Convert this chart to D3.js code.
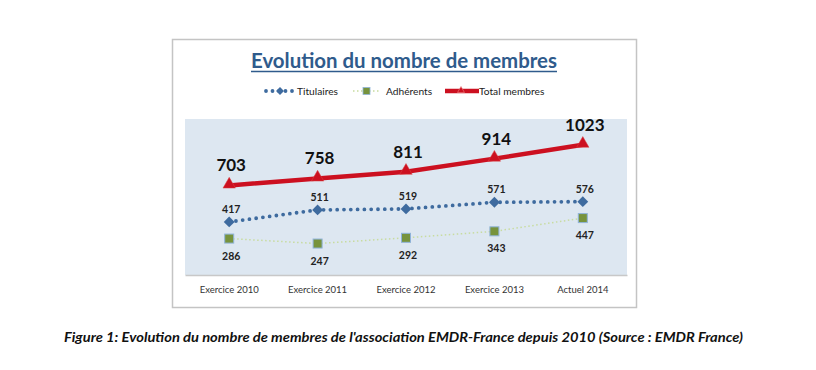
<!DOCTYPE html>
<html><head><meta charset="utf-8">
<script src="https://cdn.jsdelivr.net/npm/d3@7"></script>
<style>body{margin:0;background:#fff;} svg{display:block;}</style>
</head><body>
<script>
const categories = ["Exercice 2010","Exercice 2011","Exercice 2012","Exercice 2013","Actuel 2014"];
const titulaires = [417, 511, 519, 571, 576];
const adherents = [286, 247, 292, 343, 447];
const total = [703, 758, 811, 914, 1023];
const seriesNames = ["Titulaires","Adhérents","Total membres"];

const W = 816, H = 370;
const svg = d3.select("body").append("svg").attr("width", W).attr("height", H);
const font = "Lato, 'Open Sans', sans-serif";

// frame
svg.append("rect").attr("x",172.5).attr("y",39.5).attr("width",464).attr("height",268)
  .attr("fill","#fff").attr("stroke","#c4c4c4").attr("stroke-width",1.5);

const plot = {l:185, r:627, t:119, b:275};
svg.append("rect").attr("x",plot.l).attr("y",plot.t).attr("width",plot.r-plot.l).attr("height",plot.b-plot.t)
  .attr("fill","#dde7f1");

const x = d3.scaleBand().domain(categories).range([plot.l, plot.r]);
const y = d3.scaleLinear().domain([0, 1225]).range([plot.b, plot.t]);
const cx = c => x(c) + x.bandwidth()/2;

// axis
const ax = svg.append("g").attr("transform",`translate(0,${plot.b})`)
  .call(d3.axisBottom(x).tickSize(0).tickPadding(11));
ax.select(".domain").attr("stroke","#c8c8c8").attr("stroke-width",1.5);
ax.selectAll("text").attr("font-family",font).attr("font-size",9.5).attr("fill","#333");

const line = d3.line().x((d,i)=>cx(categories[i])).y(d=>y(d));

// Adhérents
svg.append("path").datum(adherents).attr("d",line).attr("fill","none")
  .attr("stroke","#c8dca0").attr("stroke-width",1.5).attr("stroke-dasharray","1.5,2.5");
// Titulaires
svg.append("path").datum(titulaires).attr("d",line).attr("fill","none")
  .attr("stroke","#3e6b9f").attr("stroke-width",3.8).attr("stroke-linecap","round").attr("stroke-dasharray","0,6.8");
// Total
svg.append("path").datum(total).attr("d",line).attr("fill","none")
  .attr("stroke","#cc1020").attr("stroke-width",4.5);

// markers
adherents.forEach((v,i)=>{
  svg.append("rect").attr("x",cx(categories[i])-4.5).attr("y",y(v)-4.5).attr("width",9).attr("height",9)
    .attr("fill","#77933c").attr("stroke","#8fb3d9").attr("stroke-width",1);
});
titulaires.forEach((v,i)=>{
  svg.append("path").attr("d",d3.symbol(d3.symbolDiamond2,75)())
    .attr("transform",`translate(${cx(categories[i])},${y(v)})`).attr("fill","#3e6b9f");
});
total.forEach((v,i)=>{
  svg.append("path").attr("d",d3.symbol(d3.symbolTriangle2,110)())
    .attr("transform",`translate(${cx(categories[i])},${y(v)-1})`).attr("fill","#cc1020").attr("stroke","#d44").attr("stroke-width",0.5);
});

// labels
total.forEach((v,i)=>{
  svg.append("text").attr("x",cx(categories[i])+2).attr("y",y(v)-14).attr("text-anchor","middle")
    .attr("font-family",font).attr("font-weight","bold").attr("font-size",17).attr("fill","#111").text(v);
});
titulaires.forEach((v,i)=>{
  svg.append("text").attr("x",cx(categories[i])+2).attr("y",y(v)-9).attr("text-anchor","middle")
    .attr("font-family",font).attr("font-weight","bold").attr("font-size",10.5).attr("fill","#222").text(v);
});
adherents.forEach((v,i)=>{
  svg.append("text").attr("x",cx(categories[i])+2).attr("y",y(v)+21).attr("text-anchor","middle")
    .attr("font-family",font).attr("font-weight","bold").attr("font-size",10.5).attr("fill","#222").text(v);
});

// title
svg.append("text").attr("x",404).attr("y",68).attr("text-anchor","middle")
  .attr("font-family",font).attr("font-weight","bold").attr("font-size",21).attr("fill","#2f5b8c")
  .attr("textLength",306).attr("lengthAdjust","spacingAndGlyphs")
  .text("Evolution du nombre de membres");
svg.append("line").attr("x1",251).attr("x2",557).attr("y1",71.5).attr("y2",71.5).attr("stroke","#2f5b8c").attr("stroke-width",1.5);

// legend
const ly = 91;
const lg = svg.append("g");
lg.append("line").attr("x1",266).attr("x2",293).attr("y1",ly).attr("y2",ly)
  .attr("stroke","#3e6b9f").attr("stroke-width",3.8).attr("stroke-linecap","round").attr("stroke-dasharray","0,6.5");
lg.append("path").attr("d",d3.symbol(d3.symbolDiamond2,40)()).attr("transform",`translate(280,${ly})`).attr("fill","#3e6b9f");
lg.append("text").attr("x",297).attr("y",ly+3.5).attr("font-family",font).attr("font-size",10.2).attr("fill","#222").text(seriesNames[0]);
lg.append("line").attr("x1",353).attr("x2",381).attr("y1",ly).attr("y2",ly)
  .attr("stroke","#c8dca0").attr("stroke-width",1.5).attr("stroke-dasharray","1.5,2.5");
lg.append("rect").attr("x",363).attr("y",ly-3.5).attr("width",7).attr("height",7).attr("fill","#77933c").attr("stroke","#8fb3d9").attr("stroke-width",0.8);
lg.append("text").attr("x",386).attr("y",ly+3.5).attr("font-family",font).attr("font-size",10.2).attr("fill","#222").text(seriesNames[1]);
lg.append("line").attr("x1",445).attr("x2",479).attr("y1",ly).attr("y2",ly).attr("stroke","#cc1020").attr("stroke-width",4.5);
lg.append("path").attr("d",d3.symbol(d3.symbolTriangle2,35)()).attr("transform",`translate(461,${ly-0.5})`).attr("fill","#cc1020").attr("stroke","#e88").attr("stroke-width",0.6);
lg.append("text").attr("x",479).attr("y",ly+3.5).attr("font-family",font).attr("font-size",10.2).attr("fill","#222").text(seriesNames[2]);

// caption
svg.append("text").attr("x",403.5).attr("y",342).attr("text-anchor","middle")
  .attr("font-family",font).attr("font-style","italic").attr("font-weight","bold").attr("font-size",13.5).attr("fill","#111")
  .attr("textLength",679).attr("lengthAdjust","spacingAndGlyphs")
  .text("Figure 1: Evolution du nombre de membres de l'association EMDR-France depuis 2010 (Source : EMDR France)");
</script>
</body></html>
